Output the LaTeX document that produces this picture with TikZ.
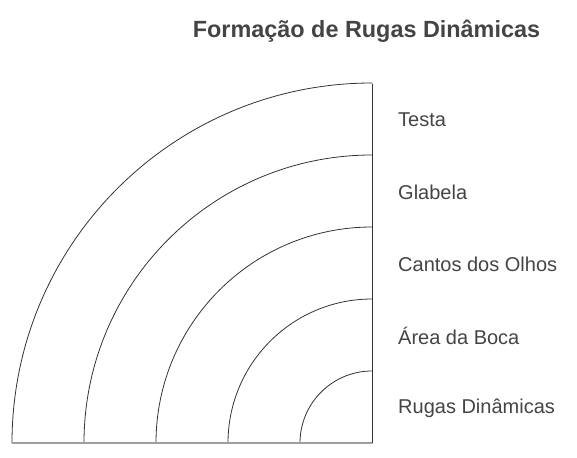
\documentclass[tikz,border=0pt]{standalone}
\usepackage{fontspec}
\setmainfont{Liberation Sans}
\definecolor{arcgray}{HTML}{333333}
\definecolor{basegray}{HTML}{9E9E9E}
\definecolor{txtgray}{HTML}{444444}
\begin{document}
\begin{tikzpicture}[x=1pt, y=-1pt, line join=round, line cap=round,
	lbl/.style={anchor=west, inner sep=0pt, text=txtgray, font=\fontsize{20}{23}\selectfont}]
			\useasboundingbox (0,0) rectangle (577,457);
			\def \cx{372}
			\def \cy{443}
			\node[text=txtgray, font=\fontsize{23.4}{27}\selectfont\bfseries] (title) at (366.5,31) {Formação de Rugas Dinâmicas};
			\foreach \r in {72,144,216,288,360}
				\draw[arcgray, line width=0.8pt] (\cx,\cy-\r) arc (-90:-180:\r);
			\coordinate (top) at (\cx,84);
			\coordinate (c) at (\cx,\cy);
			\coordinate (left) at (12,\cy);
			\draw[arcgray, line width=0.8pt] (top)--(c);
			\draw[basegray, line width=1.5pt, line cap=butt] (left)--(c);
			\node[lbl] (testa) at (398,120) {Testa};
			\node[lbl] (glabela) at (398,192) {Glabela};
			\node[lbl] (olhos) at (398,264) {Cantos dos Olhos};
			\node[lbl] (boca) at (398,336) {Área da Boca};
			\node[lbl] (rugas) at (398,408) {Rugas Dinâmicas};
			\end{tikzpicture}
\end{document}
